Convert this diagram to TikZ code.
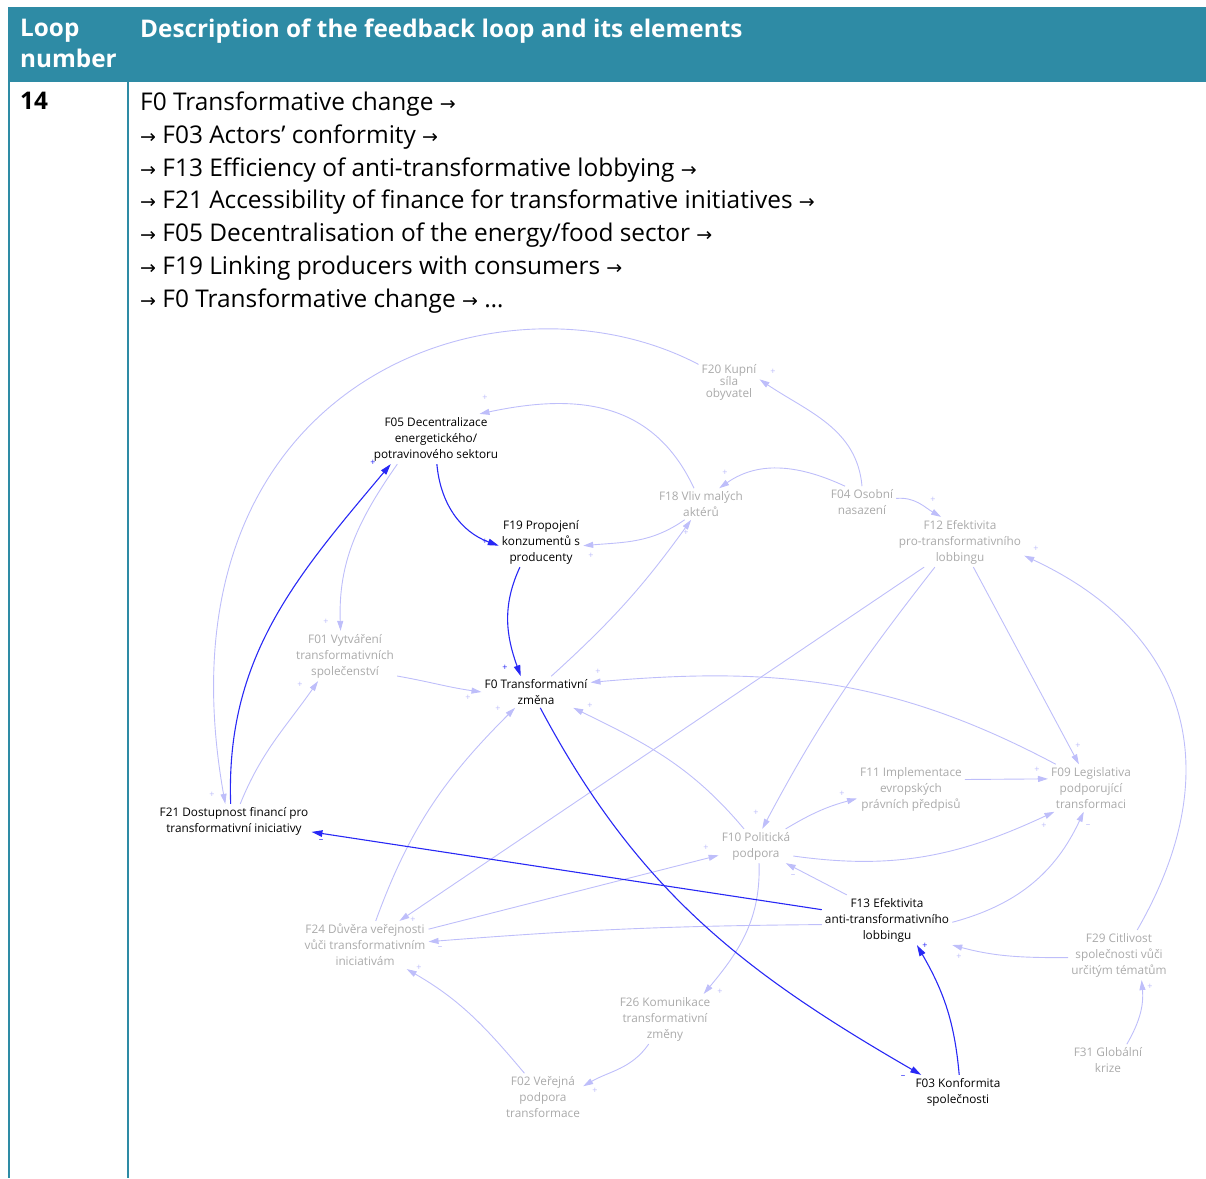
\documentclass[tikz,border=0pt]{standalone}
\usepackage{fontspec}
\setmainfont{Open Sans}
\newfontfamily\diagfont{Open Sans}
\newfontfamily\symfont{DejaVu Sans}
\usetikzlibrary{arrows.meta,positioning}
\definecolor{Teal}{RGB}{46,139,165}
\definecolor{LoopBlue}{RGB}{40,40,245}
\definecolor{LinkBlue}{RGB}{190,190,250}
\definecolor{VarGray}{RGB}{170,170,170}
\newcommand{\ra}{{\symfont\fontsize{19}{19}\selectfont →}}
\tikzset{
  headtext/.style={font=\bfseries\fontsize{24.3}{31}\selectfont,text=white,align=left,inner sep=0pt,anchor=north west},
  bodytext/.style={font=\fontsize{24.4}{32.7}\selectfont,align=left,inner sep=0pt,anchor=north west},
  gridline/.style={draw=Teal,line width=1.6pt},
  loopvar/.style={font=\diagfont\fontsize{11.8}{16}\selectfont,align=center,inner sep=3pt},
  var/.style={loopvar,text=VarGray},
  loopedge/.style={->,>={Triangle[length=11pt,width=6.5pt]},draw=LoopBlue,line width=1.1pt},
  linkedge/.style={->,>={Triangle[length=10pt,width=6pt]},draw=LinkBlue,line width=0.9pt},
  loopsign/.style={font=\diagfont\fontsize{9}{9}\selectfont,text=LoopBlue,inner sep=0pt},
  linksign/.style={loopsign,text=LinkBlue}
}
\begin{document}
\begin{tikzpicture}[x=1pt,y=1pt]
\useasboundingbox (0,0) rectangle (1206,-1178);
\fill[Teal] (8,-7) rectangle (1206,-82);
\draw[gridline] (9,-82) -- (9,-1178);
\draw[gridline] (128,-82) -- (128,-1178);

\node[headtext] (loophead) at (20,-19) {Loop\\number};
\node[headtext] (deschead) at (140,-19) {Description of the feedback loop and its elements};
\node[headtext,text=black] (loopno) at (20,-92) {14};
\node[bodytext] (looptext) at (140,-92) {F0 Transformative change \ra\\
\ra{} F03 Actors’ conformity \ra\\
\ra{} F13 Efficiency of anti-transformative lobbying \ra\\
\ra{} F21 Accessibility of finance for transformative initiatives \ra\\
\ra{} F05 Decentralisation of the energy/food sector \ra\\
\ra{} F19 Linking producers with consumers \ra\\
\ra{} F0 Transformative change \ra{} \dots};

\node[loopvar] (F05) at (436,-439) {F05 Decentralizace\\energetického/\\potravinového sektoru};
\node[loopvar] (F19) at (541,-542) {F19 Propojení\\konzumentů s\\producenty};
\node[loopvar] (F0) at (536,-692) {F0 Transformativní\\změna};
\node[loopvar] (F21) at (234,-821) {F21 Dostupnost financí pro\\transformativní iniciativy};
\node[loopvar] (F13) at (887,-920) {F13 Efektivita\\anti-transformativního\\lobbingu};
\node[loopvar] (F03) at (958,-1092) {F03 Konformita\\společnosti};
\node[var,font=\diagfont\fontsize{11.8}{12}\selectfont] (F20) at (729,-382) {F20 Kupní\\síla\\obyvatel};
\node[var] (F18) at (701,-504) {F18 Vliv malých\\aktérů};
\node[var] (F04) at (862,-502) {F04 Osobní\\nasazení};
\node[var] (F12) at (960,-542) {F12 Efektivita\\pro-transformativního\\lobbingu};
\node[var] (F01) at (345,-656) {F01 Vytváření\\transformativních\\společenství};
\node[var] (F11) at (911,-789) {F11 Implementace\\evropských\\právních předpisů};
\node[var] (F09) at (1091,-788) {F09 Legislativa\\podporující\\transformaci};
\node[var] (F10) at (756,-846) {F10 Politická\\podpora};
\node[var] (F24) at (365,-945) {F24 Důvěra veřejnosti\\vůči transformativním\\iniciativám};
\node[var] (F29) at (1119,-955) {F29 Citlivost\\společnosti vůči\\určitým tématům};
\node[var] (F26) at (665,-1019) {F26 Komunikace\\transformativní\\změny};
\node[var] (F02) at (543,-1097) {F02 Veřejná\\podpora\\transformace};
\node[var] (F31) at (1108,-1060) {F31 Globální\\krize};

\draw[linkedge] (F20.150) .. controls (500,-260) and (150,-380) .. (F21.117);
\draw[linkedge] (F18.114) to[out=115,in=12,looseness=1.1] (F05.30);
\draw[linkedge] (F05.213) to[out=-125,in=92] (F01.100);
\draw[linkedge] (F18.224) to[out=-145,in=5] (F19.-5);
\draw[linkedge] (F0.46) to[bend right=6] (F18.-122);
\draw[linkedge] (F04.north) to[out=95,in=-34] (F20.5);
\draw[linkedge] (F04.137) to[out=155,in=35] (F18.41);
\draw[linkedge] (F04.6) to[out=5,in=150] (F12.127);
\draw[linkedge] (F01.-21) to[out=-10,in=172] (F0.west);
\draw[linkedge] (F21.70) to[out=68,in=-125] (F01.-137);
\draw[linkedge] (F24.66) to[out=70,in=-135] (F0.217);
\draw[linkedge] (F10.125) to[out=130,in=-26] (F0.-23);
\draw[linkedge] (F09.146) to[out=152,in=5] (F0.10);
\draw[linkedge] (F12.215) -- (F24.35);
\draw[linkedge] (F12.225) to[out=-128,in=62] (F10.70);
\draw[linkedge] (F12.-62) -- (F09.117);
\draw[linkedge] (F10.30) to[bend left=8] (F11.190);
\draw[linkedge] (F11.10) -- (F09.168);
\draw[linkedge] (F10.-15) to[out=-8,in=-155] (F09.213);
\draw[linkedge] (F13.148) -- (F10.-30);
\draw[linkedge] (F24.14) -- (F10.194);
\draw[linkedge] (F13.184) to[bend right=2] (F24.3);
\draw[linkedge] (F13.-2) to[out=15,in=-115] (F09.-107);
\draw[linkedge] (F29.54) to[out=60,in=-25,looseness=1.2] (F12.-12);
\draw[linkedge] (F29.183) to[out=180,in=-15] (F13.-21);
\draw[linkedge] (F10.-80) to[out=-88,in=50] (F26.33);
\draw[linkedge] (F26.237) to[out=-125,in=30] (F02.15);
\draw[linkedge] (F02.128) to[out=130,in=-30] (F24.-30);
\draw[linkedge] (F31.40) to[out=60,in=-85] (F29.-48);

\draw[loopedge] (F05.-88) to[out=-85,in=160] (F19.185);
\draw[loopedge] (F19.-130) to[out=-115,in=110] (F0.134);
\draw[loopedge] (F0.-75) to[out=-62,in=150] (F03.155);
\draw[loopedge] (F03.86) to[out=95,in=-60] (F13.-40);
\draw[loopedge] (F13.171) -- (F21.-8);
\draw[loopedge] (F21.101) to[out=92,in=-130] (F05.209);

\foreach \px/\py/\s [count=\i] in {485/542/+,505/668/+,903/1077/–,925/946/+,321/841/–,373/463/+}
  \node[loopsign] (ls\i) at (\px,-\py) {\s};
\foreach \px/\py/\s [count=\i] in {212/795/+,485/398/+,326/622/+,591/556/+,686/533/+,773/372/+,725/473/+,933/500/+,468/698/+,300/685/+,498/709/+,590/706/+,598/672/+,413/920/+,756/813/+,1078/746/+,842/794/+,1037/770/+,1044/826/+,793/876/–,706/848/+,440/948/–,1088/826/–,1036/549/+,959/957/+,720/992/+,595/1091/+,419/968/+,1150/987/+}
  \node[linksign] (ks\i) at (\px,-\py) {\s};
\end{tikzpicture}
\end{document}
